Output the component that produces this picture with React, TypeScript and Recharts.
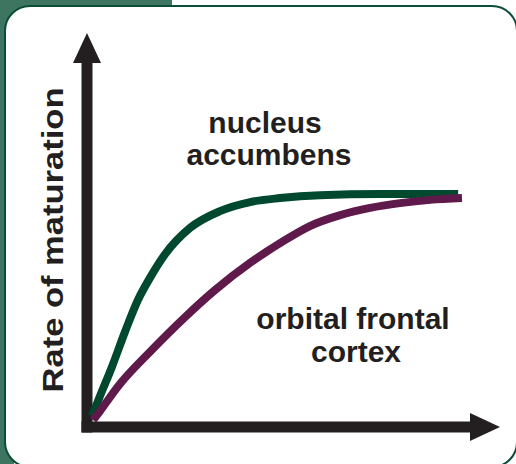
import { LineChart, Line, XAxis, YAxis, Customized } from "recharts";

// scale 0..100 on both axes
const greenX = [1.3, 3.4, 6.5, 9.9, 13.3, 16.4, 20.4, 26.9, 34.7, 42.6, 50.4, 60.8, 76.5, 96.9];
const greenY = [3.0, 8.5, 16.5, 26.1, 34.9, 40.9, 47.5, 54.7, 59.3, 61.8, 62.9, 63.7, 64.0, 64.0];

const purpleX = [1.6, 3.4, 8.6, 16.4, 25.6, 33.4, 42.6, 50.4, 58.2, 66.1, 73.9, 81.7, 89.6, 97.9];
const purpleY = [1.9, 4.4, 11.8, 20.6, 30.2, 37.6, 45.1, 50.5, 55.2, 58.2, 60.2, 61.5, 62.4, 62.9];

const greenData = greenX.map((x, i) => ({ x, y: greenY[i] }));
const purpleData = purpleX.map((x, i) => ({ x, y: purpleY[i] }));

const W = 516;
const H = 464;
const MARGIN = { top: 63, right: 46, bottom: 37, left: 87 };

const INK = "#231f20";
const GREEN = "#00492f";
const PURPLE = "#5f1a4b";
const TAB = "#3d7561";
const FONT = '"Liberation Sans", Arial, sans-serif';

function Decor() {
  const left = MARGIN.left;
  const top = MARGIN.top;
  const bottom = H - MARGIN.bottom;
  const right = W - MARGIN.right;
  const half = 5.5;
  const txt = { fontFamily: FONT, fontWeight: 700, fontSize: 30, fill: INK };
  return (
    <g>
      {/* axes with arrow heads */}
      <rect x={left - half} y={top} width={half * 2} height={bottom - top + half} fill={INK} />
      <rect x={left - half} y={bottom - half} width={right - left + half} height={half * 2} fill={INK} />
      <polygon points={`${left},${top - 30} ${left - 14},${top} ${left + 14},${top}`} fill={INK} />
      <polygon points={`${right + 30},${bottom} ${right},${bottom - 14} ${right},${bottom + 14}`} fill={INK} />
      <text x={265} y={133} textAnchor="middle" style={txt}>nucleus</text>
      <text x={269} y={165} textAnchor="middle" style={txt}>accumbens</text>
      <text x={353} y={329} textAnchor="middle" style={txt}>orbital frontal</text>
      <text x={356} y={362} textAnchor="middle" style={txt}>cortex</text>
      <text
        x={63}
        y={240}
        textAnchor="middle"
        transform="rotate(-90 63 240)"
        textLength={305}
        lengthAdjust="spacingAndGlyphs"
        style={{ ...txt, fontSize: 29 }}
      >
        Rate of maturation
      </text>
    </g>
  );
}

export default function App() {
  return (
    <div style={{ position: "absolute", left: 0, top: 0, width: W, height: H, overflow: "hidden", background: "#fff" }}>
      <div style={{ position: "absolute", left: 0, top: 0, width: 172, height: 30, background: TAB }} />
      <div style={{ position: "absolute", left: 0, top: 0, width: 14, height: H, background: TAB }} />
      <div
        style={{
          position: "absolute",
          left: 4,
          top: 5,
          width: 514,
          height: 463,
          boxSizing: "border-box",
          border: "2.5px solid #0b4d36",
          borderRadius: 26,
          background: "#fff",
        }}
      />
      <div style={{ position: "absolute", left: 0, top: 0 }}>
        <LineChart width={W} height={H} data={greenData} margin={MARGIN}>
          <XAxis type="number" dataKey="x" domain={[0, 100]} hide />
          <YAxis type="number" dataKey="y" domain={[0, 100]} hide />
          <Customized component={Decor} />
          <Line data={greenData} dataKey="y" type="monotone" stroke={GREEN} strokeWidth={8} dot={false} isAnimationActive={false} />
          <Line data={purpleData} dataKey="y" type="monotone" stroke={PURPLE} strokeWidth={8} dot={false} isAnimationActive={false} />
        </LineChart>
      </div>
    </div>
  );
}
